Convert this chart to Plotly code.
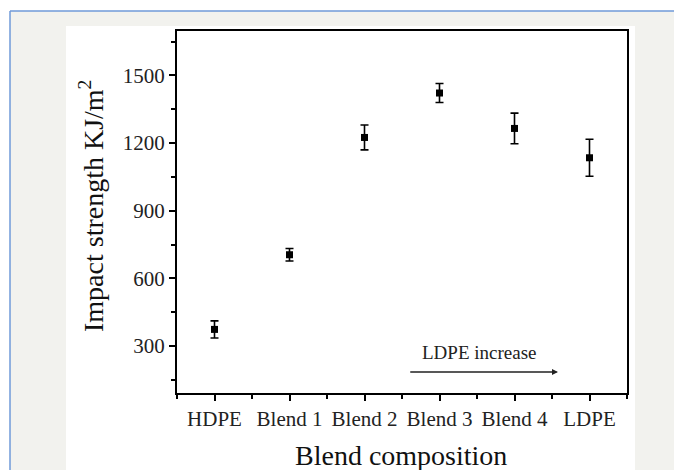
import plotly.graph_objects as go

categories = ["HDPE", "Blend 1", "Blend 2", "Blend 3", "Blend 4", "LDPE"]
impact = [374, 705, 1225, 1422, 1265, 1135]
impact_err = [38, 28, 55, 42, 68, 82]
y_ticks = [300, 600, 900, 1200, 1500]

x_pos = list(range(len(categories)))

# page has an 8px body margin; figure coordinates are page coordinates - 8
W, H = 674, 462
L, R, T, B = 169, 55, 23, 77
pw, ph = W - L - R, H - T - B


def px(x):
    return (x - L) / pw


def py(y):
    return (H - B - y) / ph


serif = "Liberation Serif, Times New Roman, serif"

fig = go.Figure()
fig.add_trace(go.Scatter(
    x=x_pos, y=impact, mode="markers",
    marker=dict(symbol="square", size=7, color="black"),
    error_y=dict(type="data", array=impact_err, visible=True,
                 color="black", thickness=1.6, width=4),
    showlegend=False,
))

fig.add_annotation(x=4.58, y=185, ax=2.59, ay=185, xref="x", yref="y",
                   axref="x", ayref="y", showarrow=True, arrowhead=2,
                   arrowsize=0.8, arrowwidth=1.5, arrowcolor="#222", text="")
fig.add_annotation(x=3.52, y=272, xref="x", yref="y", text="LDPE increase",
                   showarrow=False, font=dict(family=serif, size=19, color="#222"))

# axis titles
fig.add_annotation(x=px(83), y=py(198), xref="paper", yref="paper",
                   text="Impact strength KJ/m<sup>2</sup>", textangle=-90,
                   showarrow=False, xanchor="center", yanchor="middle",
                   font=dict(family=serif, size=28, color="#111"))
fig.add_annotation(x=px(393), y=py(447), xref="paper", yref="paper",
                   text="Blend composition", showarrow=False,
                   xanchor="center", yanchor="middle",
                   font=dict(family=serif, size=28, color="#111"))

shapes = [
    dict(type="rect", xref="paper", yref="paper", x0=px(2), x1=px(W),
         y0=py(H), y1=py(3), fillcolor="#f2f2ee", line=dict(width=0), layer="below"),
    dict(type="rect", xref="paper", yref="paper", x0=px(58), x1=px(627),
         y0=py(H), y1=py(18), fillcolor="white", line=dict(width=0), layer="below"),
    dict(type="line", xref="paper", yref="paper", x0=px(2), x1=px(W),
         y0=py(3), y1=py(3), line=dict(color="#6f9ad8", width=1.5)),
    dict(type="line", xref="paper", yref="paper", x0=px(2), x1=px(2),
         y0=py(3), y1=py(H), line=dict(color="#6f9ad8", width=1.5)),
]

fig.update_layout(
    width=W, height=H,
    margin=dict(l=L, r=R, t=T, b=B, pad=0),
    paper_bgcolor="white", plot_bgcolor="white",
    shapes=shapes,
    font=dict(family=serif, color="#222"),
)
fig.update_xaxes(
    range=[-0.5, 5.5], tickmode="array", tickvals=x_pos, ticktext=categories,
    showgrid=False, zeroline=False, showline=True, linecolor="black", linewidth=2,
    mirror=True, ticks="outside", ticklen=6, tickwidth=1.5, tickcolor="black",
    tickfont=dict(family=serif, size=21, color="#222"),
    minor=dict(tickmode="array", tickvals=[i - 0.5 for i in range(7)],
               ticks="outside", ticklen=4, tickwidth=1.5, tickcolor="black"),
)
fig.update_yaxes(
    range=[92, 1697], tickmode="array", tickvals=y_ticks,
    showgrid=False, zeroline=False, showline=True, linecolor="black", linewidth=2,
    mirror=True, ticks="outside", ticklen=6, tickwidth=1.5, tickcolor="black",
    tickfont=dict(family=serif, size=21, color="#222"),
    minor=dict(tickmode="array", tickvals=[150, 450, 750, 1050, 1350, 1650],
               ticks="outside", ticklen=4, tickwidth=1.5, tickcolor="black"),
)

fig.write_html("out.html")
